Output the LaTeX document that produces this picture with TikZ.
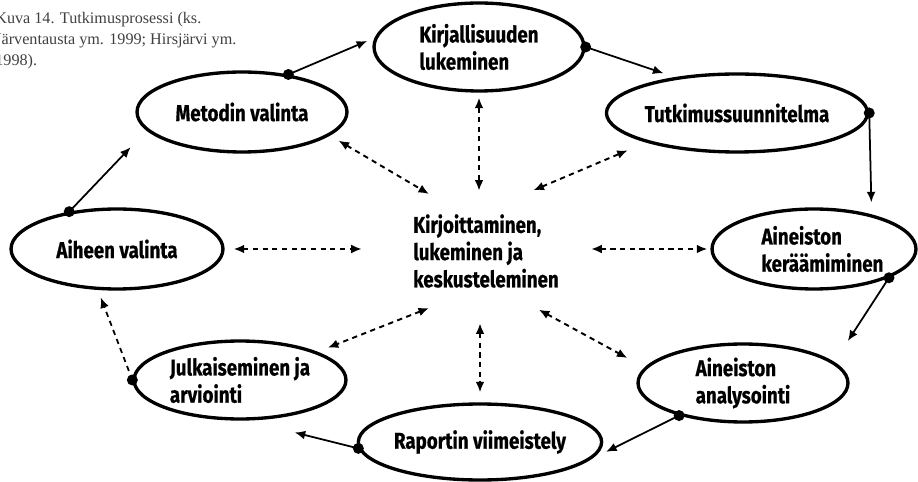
\documentclass[tikz,border=0pt]{standalone}
\usepackage{fontspec}
\setmainfont{Liberation Serif}
\newfontfamily\stagefont{Fira Sans}[FakeStretch=0.82, BoldFeatures={FakeBold=0.6}]
\usetikzlibrary{arrows.meta, shapes.geometric, calc}

\tikzset{
  stage/.style={ellipse, draw, line width=1.9pt, inner sep=0pt, align=left,
    font=\stagefont\bfseries\fontsize{13}{15.5}\selectfont},
  hub/.style={ellipse, inner sep=0pt, align=left, minimum width=4cm, minimum height=2.72cm,
    font=\stagefont\bfseries\fontsize{13}{15.5}\selectfont},
  note/.style={inner sep=0pt, align=left, text=black!75, font=\fontsize{9.2}{11.9}\selectfont},
  flow/.style={-{Latex[length=6pt,width=5pt]}, line width=1pt},
  talk/.style={{Latex[length=6pt,width=5pt]}-{Latex[length=6pt,width=5pt]}, line width=1.1pt,
    dash pattern=on 3pt off 2.5pt}
}

\begin{document}
\begin{tikzpicture}[x=0.02cm, y=-0.02cm]
  \useasboundingbox (0,0) rectangle (918,482);
  % caption, cut at the left edge
  \node[note, anchor=north west] (cap) at (-5,12)
    {Kuva 14. Tutkimusprosessi (ks.\\J\"arventausta ym. 1999; Hirsj\"arvi ym.\\1998).};
  % stages of the process
  \node[stage, minimum width=4.2cm, minimum height=1.76cm] (kirj) at (479,47) {Kirjallisuuden\\lukeminen};
  \node[stage, minimum width=4.16cm, minimum height=1.56cm] (tutk) at (737,113) {Tutkimussuunnitelma};
  \node[stage, minimum width=4.08cm, minimum height=1.6cm, text width=2.1cm] (kera) at (814,249) {Aineiston\\\mbox{ker\"a\"amiminen}};
  \node[stage, minimum width=4.2cm, minimum height=1.56cm] (anal) at (743,383) {Aineiston\\analysointi};
  \node[stage, minimum width=4.24cm, minimum height=1.52cm] (rap) at (480,442) {Raportin viimeistely};
  \node[stage, minimum width=4.24cm, minimum height=1.56cm] (julk) at (240,380) {Julkaiseminen ja\\arviointi};
  \node[stage, minimum width=4.24cm, minimum height=1.6cm] (aih) at (117,249) {Aiheen valinta};
  \node[stage, minimum width=4.2cm, minimum height=1.6cm] (met) at (242,112) {Metodin valinta};
  \node[hub] (mid) at (486,251) {Kirjoittaminen,\\lukeminen ja\\keskusteleminen};
  % process arrows
  \draw[flow, shorten >=0.16cm] (met.39) -- (kirj.175);
  \draw[flow, shorten >=0.24cm] (kirj.0) -- (tutk.150);
  \draw[flow, shorten >=0.24cm] (tutk.0) -- (kera.31);
  \draw[flow, shorten >=0.5cm] (kera.-21) -- (anal.13);
  \draw[flow, shorten >=0.7cm] (anal.207) -- (rap.-15);
  \draw[flow, shorten >=0.98cm] (rap.183) -- (julk.-80);
  \draw[flow, dash pattern=on 3pt off 2.5pt, shorten >=0.16cm] (julk.180) -- (aih.-115);
  \draw[flow, shorten >=0.46cm] (aih.142) -- (met.191);
  \foreach \p in {met.39, kirj.0, tutk.0, kera.-21, anal.207, rap.183, julk.180, aih.142} {
    \fill (\p) circle (0.11cm);
  }
  % writing, reading and discussing with every stage
  \draw[talk, shorten <=0.2cm] (met.-15) -- (mid.135);
  \draw[talk, shorten <=0.1cm, shorten >=-0.16cm] (kirj.south) -- (kirj.south |- mid.north);
  \draw[talk, shorten >=0.4cm] (mid.52) -- (tutk.198.5);
  \draw[talk, shorten <=0.04cm, shorten >=0.06cm] (kera.west -| mid.east) -- (kera.west);
  \draw[talk, shorten >=0.39cm] (mid.-48) -- (anal.171.6);
  \draw[talk, shorten <=0.08cm, shorten >=0.2cm] (rap.north |- mid.south) -- (rap.north);
  \draw[talk, shorten >=0.22cm] (mid.225) -- (julk.20);
  \draw[talk, shorten <=0.18cm, shorten >=0.42cm] (aih.east) -- (aih.east -| mid.west);
\end{tikzpicture}
\end{document}
